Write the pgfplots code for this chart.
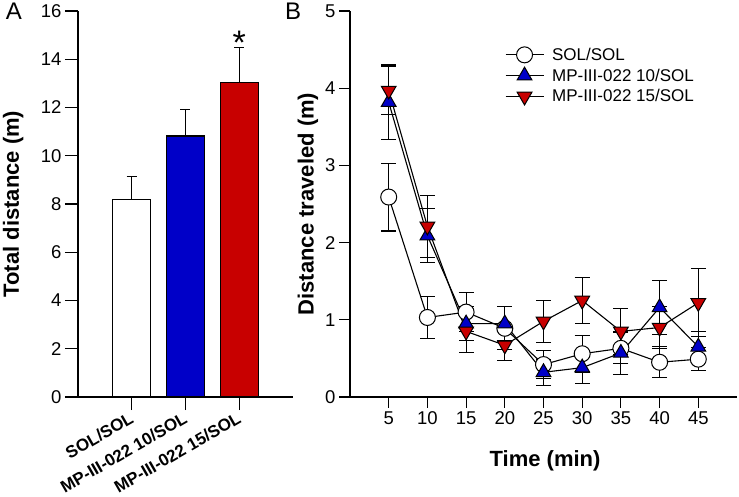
\documentclass[border=0pt]{standalone}
\usepackage{pgfplots}
\usepackage{pgfplotstable}
\pgfplotsset{compat=1.18}
\usepackage{fontspec}
\setmainfont{Liberation Sans}

\definecolor{barblue}{RGB}{0,0,200}
\definecolor{barred}{RGB}{200,0,0}

% time course: t, mean, sem
\pgfplotstableread{
t y e
5 2.59 0.44
10 1.03 0.27
15 1.10 0.25
20 0.89 0.28
25 0.42 0.18
30 0.56 0.24
35 0.63 0.20
40 0.45 0.20
45 0.49 0.15
}\solsol
\pgfplotstableread{
t y e
5 3.82 0.48
10 2.09 0.35
15 0.95 0.22
20 0.95 0.22
25 0.32 0.17
30 0.38 0.21
35 0.57 0.28
40 1.16 0.35
45 0.65 0.20
}\mpten
\pgfplotstableread{
t y e
5 3.97 0.31
10 2.21 0.40
15 0.85 0.27
20 0.67 0.20
25 0.98 0.27
30 1.25 0.30
35 0.85 0.30
40 0.90 0.27
45 1.22 0.44
}\mpfifteen

\pgfplotsset{
  panel/.style={
    scale only axis,
    axis lines=left,
    x axis line style={-, line width=1.2pt},
    y axis line style={-, line width=1.2pt},
    tick align=outside,
    major tick length=13pt,
    tick style={black, line width=1.1pt},
    tick label style={font=\fontsize{18.5}{22}\selectfont},
    /pgf/number format/assume math mode=true,
    label style={font=\bfseries\fontsize{22}{26}\selectfont},
    title style={font=\fontsize{24}{26}\selectfont, anchor=center, yshift=0pt},
    clip=false,
  },
  ebar/.style={
    error bars/.cd, y dir=both, y explicit,
    error bar style={line width=1.1pt, black, solid},
    error mark options={rotate=90, mark size=7.5pt, line width=1.1pt, black, solid},
  },
}

\begin{document}
\begin{tikzpicture}
\path[use as bounding box] (-78pt,-100pt) rectangle (661pt,397pt);

\begin{axis}[
  panel,
  at={(0pt,0pt)}, anchor=south west,
  width=215pt, height=386pt,
  xmin=-1, xmax=3, ymin=0, ymax=16,
  ytick={0,2,...,16},
  xtick={0,1,2},
  xticklabels={SOL/SOL, MP-III-022 10/SOL, MP-III-022 15/SOL},
  xticklabel style={rotate=30, anchor=north east, yshift=4pt, font=\bfseries\fontsize{17}{20}\selectfont},
  ylabel={Total distance (m)},
  ylabel style={at={(axis description cs:-0.302,0.5)}, anchor=center},
  title={A},
  title style={at={(axis description cs:-0.298,0.985)}},
]
\addplot[ybar, bar width=38pt, bar shift=0pt, fill=white, draw=black, line width=1.2pt,
  error bars/.cd, y dir=plus, y explicit,
  error bar style={line width=1.2pt},
  error mark options={rotate=90, mark size=5pt, line width=1.2pt}]
  coordinates {(0,8.20) +- (0,0.94)};
\addplot[ybar, bar width=38pt, bar shift=0pt, fill=barblue, draw=black, line width=1.2pt,
  error bars/.cd, y dir=plus, y explicit,
  error bar style={line width=1.2pt},
  error mark options={rotate=90, mark size=5pt, line width=1.2pt}]
  coordinates {(1,10.82) +- (0,1.10)};
\addplot[ybar, bar width=38pt, bar shift=0pt, fill=barred, draw=black, line width=1.2pt,
  error bars/.cd, y dir=plus, y explicit,
  error bar style={line width=1.2pt},
  error mark options={rotate=90, mark size=5pt, line width=1.2pt}]
  coordinates {(2,13.03) +- (0,1.46)};
% significance star
\addplot[draw=none, mark=none, nodes near coords={*},
  every node near coord/.append style={font=\fontsize{34}{34}\selectfont, anchor=base, inner sep=0pt, yshift=-7pt}]
  coordinates {(2,14.49)};
\end{axis}

\begin{axis}[
  panel,
  at={(272pt,0pt)}, anchor=south west,
  width=387pt, height=386pt,
  xmin=0, xmax=50, ymin=0, ymax=5,
  xtick={5,10,...,45}, ytick={0,1,...,5},
  major tick length=11pt,
  xlabel={Time (min)},
  xlabel style={at={(axis description cs:0.504,-0.166)}, anchor=center},
  ylabel={Distance traveled (m)},
  ylabel style={at={(axis description cs:-0.1085,0.5)}, anchor=center},
  title={B},
  title style={at={(axis description cs:-0.147,0.985)}},
  legend style={at={(0.40,0.91)}, anchor=north west, draw=none, fill=none,
    inner sep=0pt, row sep=3pt, column sep=6pt, font=\fontsize{17}{20}\selectfont},
  legend cell align=left,
  legend image code/.code={\draw[mark repeat=2, mark phase=2] plot coordinates {(0pt,0pt) (19pt,0pt) (38pt,0pt)};},
]
\addplot[black, line width=1.1pt, mark=*, mark size=8pt,
  mark options={fill=white, draw=black, solid, line width=1pt}, ebar]
  table[x=t, y=y, y error=e] {\solsol};
\addlegendentry{SOL/SOL}
\addplot[black, line width=1.1pt, mark=triangle*, mark size=8.5pt,
  mark options={fill=barblue, draw=black, solid, line width=1pt}, ebar]
  table[x=t, y=y, y error=e] {\mpten};
\addlegendentry{MP-III-022 10/SOL}
\addplot[black, line width=1.1pt, mark=triangle*, mark size=8.5pt,
  mark options={fill=barred, draw=black, solid, line width=1pt, rotate=180}, ebar]
  table[x=t, y=y, y error=e] {\mpfifteen};
\addlegendentry{MP-III-022 15/SOL}
\end{axis}
\end{tikzpicture}
\end{document}
